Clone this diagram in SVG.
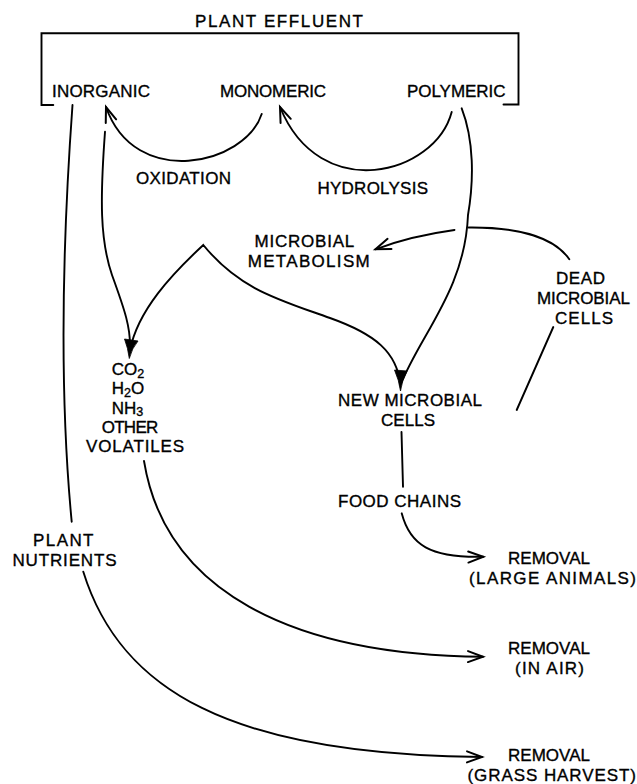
<svg xmlns="http://www.w3.org/2000/svg" width="637" height="784" viewBox="0 0 637 784">
<style>
  text { font-family: "Liberation Sans", Arial, sans-serif; font-size: 17px; fill: #000; stroke: #000; stroke-width: 0.35; }
  .ln { fill: none; stroke: #000; stroke-width: 1.9; stroke-linecap: round; stroke-linejoin: miter; }
  .arr { marker-end: url(#open); }
  .dart { fill: #000; stroke: #000; stroke-width: 0.8; stroke-linejoin: round; }
  .sub { font-size: 12.5px; }
</style>
<defs>
  <marker id="open" markerUnits="userSpaceOnUse" viewBox="-18 -8 20 16" refX="0" refY="0" markerWidth="20" markerHeight="16" orient="auto" overflow="visible">
    <path d="M -15 -5.5 L 0 0 L -15 5.5" fill="none" stroke="#000" stroke-width="2" stroke-linecap="round" stroke-linejoin="miter"/>
  </marker>
</defs>
<rect width="637" height="784" fill="#fff"/>

<g id="n-plant-effluent">
  <text x="195" y="26.7" textLength="168" lengthAdjust="spacing">PLANT EFFLUENT</text>
  <path class="ln" d="M 53.3 105 H 41.5 V 33.3 H 518.5 V 104.5 H 503.5"/>
</g>
<g id="n-inorganic"><text x="52" y="97" textLength="98" lengthAdjust="spacing">INORGANIC</text></g>
<g id="n-monomeric"><text x="220" y="97" textLength="106" lengthAdjust="spacing">MONOMERIC</text></g>
<g id="n-polymeric"><text x="407" y="97" textLength="98.5" lengthAdjust="spacing">POLYMERIC</text></g>
<g id="n-oxidation"><text x="136" y="184" textLength="95" lengthAdjust="spacing">OXIDATION</text></g>
<g id="n-hydrolysis"><text x="317.5" y="194" textLength="110.5" lengthAdjust="spacing">HYDROLYSIS</text></g>
<g id="n-metabolism">
  <text x="254.6" y="246.5" textLength="99.7" lengthAdjust="spacing">MICROBIAL</text>
  <text x="247.7" y="267" textLength="122" lengthAdjust="spacing">METABOLISM</text>
</g>
<g id="n-dead-cells">
  <text x="556" y="284" textLength="49" lengthAdjust="spacing">DEAD</text>
  <text x="537" y="304" textLength="93" lengthAdjust="spacing">MICROBIAL</text>
  <text x="555" y="324" textLength="58" lengthAdjust="spacing">CELLS</text>
</g>
<g id="n-volatiles">
  <text x="111.7" y="375">CO<tspan class="sub" dy="2.5">2</tspan></text>
  <text x="111.7" y="394">H<tspan class="sub" dy="2.5">2</tspan><tspan dy="-2.5">O</tspan></text>
  <text x="111.7" y="413.5">NH<tspan class="sub" dy="2.5">3</tspan></text>
  <text x="101.7" y="433" textLength="56.6" lengthAdjust="spacing">OTHER</text>
  <text x="86" y="452" textLength="98" lengthAdjust="spacing">VOLATILES</text>
</g>
<g id="n-new-cells">
  <text x="338" y="405.5" textLength="144" lengthAdjust="spacing">NEW MICROBIAL</text>
  <text x="381" y="425.5" textLength="54" lengthAdjust="spacing">CELLS</text>
</g>
<g id="n-food-chains"><text x="338" y="506.7" textLength="123" lengthAdjust="spacing">FOOD CHAINS</text></g>
<g id="n-plant-nutrients">
  <text x="33" y="546" textLength="60.5" lengthAdjust="spacing">PLANT</text>
  <text x="12.5" y="566" textLength="104" lengthAdjust="spacing">NUTRIENTS</text>
</g>
<g id="n-removal-animals">
  <text x="508" y="564" textLength="82" lengthAdjust="spacing">REMOVAL</text>
  <text x="469" y="584" textLength="167" lengthAdjust="spacing">(LARGE ANIMALS)</text>
</g>
<g id="n-removal-air">
  <text x="508" y="654" textLength="82" lengthAdjust="spacing">REMOVAL</text>
  <text x="515" y="674" textLength="69" lengthAdjust="spacing">(IN AIR)</text>
</g>
<g id="n-removal-grass">
  <text x="508" y="761" textLength="82" lengthAdjust="spacing">REMOVAL</text>
  <text x="467.5" y="781" textLength="168.5" lengthAdjust="spacing">(GRASS HARVEST)</text>
</g>

<g id="connectors">
  <!-- oxidation: monomeric -> inorganic -->
  <path class="ln arr" d="M 261.7 114 C 245 165, 135 190, 106 107"/>
  <!-- hydrolysis: polymeric -> monomeric -->
  <path class="ln arr" d="M 451.7 112 C 435 175, 320 205, 280 107"/>
  <!-- inorganic -> plant nutrients -->
  <path class="ln" d="M 72.5 105 C 62 250, 60 400, 71.7 521.7"/>
  <!-- plant nutrients -> removal (grass harvest) -->
  <path class="ln arr" d="M 83.3 571.7 C 120 690, 230 755, 482 757"/>
  <!-- inorganic -> volatiles -->
  <path class="ln" d="M 105 131.7 C 100 200, 100 240, 112 275 C 124 308, 132 330, 129.5 352"/>
  <!-- microbial metabolism branches: to volatiles and to new microbial cells -->
  <path class="ln" d="M 130 350 C 138 310, 172 274, 203.3 245 C 240 290, 280 300, 330 318 C 375 334, 397 352, 400.5 385"/>
  <!-- polymeric -> new microbial cells -->
  <path class="ln" d="M 461.7 108.3 C 474 140, 474 180, 468 215 C 465 290, 420 335, 400.5 385"/>
  <!-- filled dart heads -->
  <path class="dart" d="M 124.5 339 Q 128 348 129.3 358.5 Q 132 348 138 341 Z"/>
  <path class="dart" d="M 394.5 370 Q 399 380 400.5 391 Q 402 380 407 371 Z"/>
  <!-- dead microbial cells -> microbial metabolism -->
  <path class="ln arr" d="M 569.3 259.3 C 555 238, 520 227, 468.5 227.5 M 454.5 230 C 425 234, 400 240, 375.5 249.3"/>
  <!-- new microbial cells - dead microbial cells -->
  <path class="ln" d="M 553.3 327 L 516.7 410"/>
  <!-- new microbial cells -> food chains -->
  <path class="ln" d="M 401.5 432 L 403 486.7"/>
  <!-- food chains -> removal (large animals) -->
  <path class="ln arr" d="M 401.7 513.3 C 410 545, 430 558, 483.3 556.7"/>
  <!-- volatiles -> removal (in air) -->
  <path class="ln arr" d="M 144 461 C 165 590, 290 655, 483 656.7"/>
</g>
</svg>
